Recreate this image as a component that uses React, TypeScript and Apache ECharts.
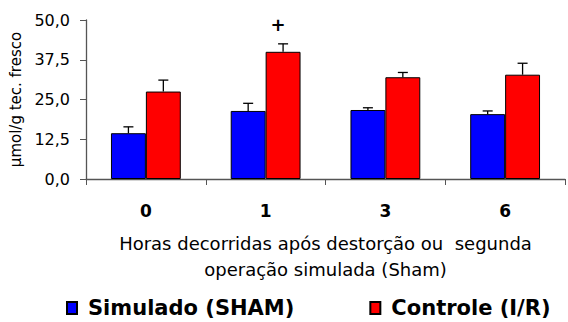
import React, { useEffect, useRef } from "react";
import * as echarts from "echarts";

const categories = ["0", "1", "3", "6"];
const shamValues = [14.4, 21.4, 21.7, 20.4];
const shamErrors = [2.0, 2.4, 0.7, 1.0];
const irValues = [27.5, 40.0, 32.0, 32.8];
const irErrors = [3.6, 2.5, 1.5, 3.6];
const irMarks = ["", "+", "", ""];
const yTicks = { min: 0, max: 50, interval: 12.5 };

const FONT = "DejaVu Sans";

export default function App() {
  const ref = useRef<HTMLDivElement>(null);
  useEffect(() => {
    if (!ref.current) return;
    const chart = echarts.init(ref.current, undefined, { renderer: "svg" });
    const barOffsetFrac = 0.1458;
    const errRender = (sign: number) => (params: any, api: any) => {
      const idx = api.value(0);
      const v = api.value(1);
      const e = api.value(2);
      const band = api.size([1, 0])[0];
      const base = api.coord([idx, v]);
      const top = api.coord([idx, v + e]);
      const x = base[0] + sign * band * barOffsetFrac;
      const half = 5;
      return {
        type: "group",
        children: [
          {
            type: "line",
            shape: { x1: x, y1: base[1], x2: x, y2: top[1] },
            style: { stroke: "#000", lineWidth: 1.3 },
          },
          {
            type: "line",
            shape: { x1: x - half, y1: top[1], x2: x + half, y2: top[1] },
            style: { stroke: "#000", lineWidth: 1.3 },
          },
        ],
      };
    };
    const markRender = (params: any, api: any) => {
      const idx = api.value(0);
      const v = api.value(1);
      const e = api.value(2);
      const label = irMarks[idx];
      const band = api.size([1, 0])[0];
      const top = api.coord([idx, v + e]);
      const x = top[0] + band * barOffsetFrac - 5;
      return {
        type: "text",
        x,
        y: top[1] - 10,
        style: {
          text: label,
          fontFamily: FONT,
          fontSize: 18,
          fontWeight: "bold",
          fill: "#000",
          align: "center",
          verticalAlign: "bottom",
        },
      };
    };
    chart.setOption({
      animation: false,
      textStyle: { fontFamily: FONT },
      grid: { left: 86, right: 3, top: 20, bottom: 143 },
      legend: {
        left: 66,
        top: 296,
        padding: 0,
        icon: "rect",
        itemWidth: 10,
        itemHeight: 12,
        itemGap: 75,
        data: ["Simulado (SHAM)", "Controle (I/R)"],
        textStyle: {
          fontFamily: FONT,
          fontSize: 21,
          fontWeight: "bold",
          color: "#000",
          padding: [0, 0, 0, 6],
          lineHeight: 24,
        },
      },
      xAxis: {
        type: "category",
        data: categories,
        axisLine: { lineStyle: { color: "#555", width: 1.3 } },
        axisTick: { show: true, length: 6, lineStyle: { color: "#555" } },
        axisLabel: {
          fontFamily: FONT,
          fontSize: 17,
          fontWeight: "bold",
          color: "#000",
          margin: 23,
        },
        name: "Horas decorridas após destorção ou  segunda\noperação simulada (Sham)",
        nameLocation: "middle",
        nameGap: 51,
        nameTextStyle: {
          fontFamily: FONT,
          fontSize: 18,
          color: "#000",
          lineHeight: 26,
          verticalAlign: "top",
        },
      },
      yAxis: {
        type: "value",
        min: yTicks.min,
        max: yTicks.max,
        interval: yTicks.interval,
        splitLine: { show: false },
        axisLine: { show: true, lineStyle: { color: "#555", width: 1.3 } },
        axisTick: { show: true, length: 6, lineStyle: { color: "#555" } },
        axisLabel: {
          fontFamily: FONT,
          fontSize: 16,
          color: "#000",
          margin: 16,
          formatter: (v: number) => v.toFixed(1).replace(".", ","),
        },
        name: "µmol/g tec. fresco",
        nameLocation: "middle",
        nameRotate: 90,
        nameGap: 54,
        nameTextStyle: { fontFamily: FONT, fontSize: 15, color: "#000" },
      },
      series: [
        {
          name: "Simulado (SHAM)",
          type: "bar",
          data: shamValues,
          barGap: "0%",
          barCategoryGap: "41.7%",
          itemStyle: { color: "#0000ff", borderColor: "#000", borderWidth: 1 },
        },
        {
          name: "Controle (I/R)",
          type: "bar",
          data: irValues,
          barGap: "0%",
          barCategoryGap: "41.7%",
          itemStyle: { color: "#ff0000", borderColor: "#000", borderWidth: 1 },
        },
        {
          type: "custom",
          renderItem: errRender(-1),
          data: shamValues.map((v, i) => [i, v, shamErrors[i]]),
          z: 3,
        },
        {
          type: "custom",
          renderItem: errRender(1),
          data: irValues.map((v, i) => [i, v, irErrors[i]]),
          z: 3,
        },
        {
          type: "custom",
          renderItem: markRender,
          data: irValues
            .map((v, i) => [i, v, irErrors[i]])
            .filter((d) => irMarks[d[0] as number] !== ""),
          z: 4,
        },
      ],
    });
    return () => chart.dispose();
  }, []);
  return (
    <div
      ref={ref}
      style={{ position: "fixed", left: 0, top: 0, width: 568, height: 322, background: "#fff" }}
    />
  );
}
